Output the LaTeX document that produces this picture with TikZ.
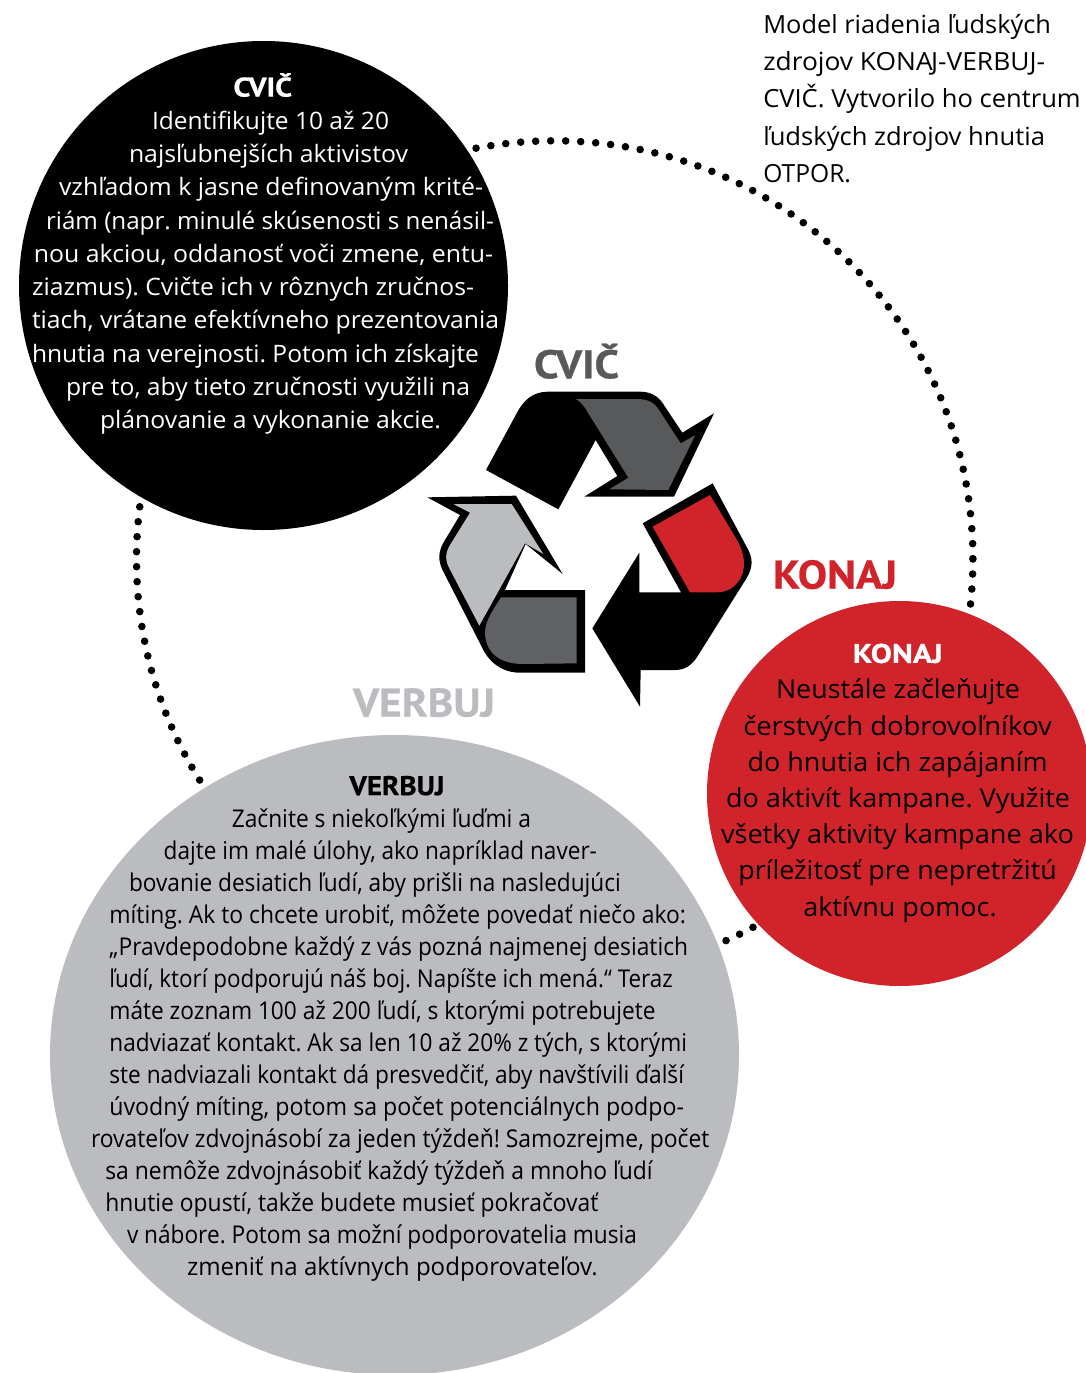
\documentclass[tikz,border=0pt]{standalone}
\usepackage{fontspec}
\usepackage{graphicx}
\usetikzlibrary{shapes.geometric}
\setmainfont{Open Sans}
\newfontfamily\headfont[BoldFeatures={FakeBold=0.6}]{PT Sans}
\definecolor{redc}{HTML}{D1232A}
\definecolor{greyc}{HTML}{BBBCC0}
\definecolor{darkc}{HTML}{58595B}
\definecolor{darkd}{HTML}{616265}
\tikzset{
  textline/.style={anchor=base west,inner sep=0pt,outer sep=0pt,yshift=-0.6pt},
  body/.style={font=\fontsize{24}{30}\selectfont\frenchspacing},
  bodyk/.style={font=\fontsize{26}{30}\selectfont\frenchspacing},
  bodyv/.style={font=\fontsize{24.5}{30}\selectfont\frenchspacing},
  bodyt/.style={font=\fontsize{25}{30}\selectfont\frenchspacing},
  headin/.style={font=\headfont\fontsize{27}{30}\selectfont\bfseries},
  headout/.style={font=\headfont\fontsize{40}{44}\selectfont\bfseries},
  ring/.style={line width=7.6pt,line cap=round,dash pattern=on 0pt off 15.015pt},
}
\newcommand\tl[6][]{\node[textline,#1] (#2) at (#3,#4) {\resizebox{\dimexpr #5pt-#3pt\relax}{\height}{#6}};}
\begin{document}
\begin{tikzpicture}[x=1pt,y=-1pt]
\useasboundingbox (0,0) rectangle (1086,1373);
\begin{scope}
\clip (0,0) rectangle (1086,1373);
% ring
\draw[ring] (554.7,559) circle[radius=418.2];
% discs
\node[circle,fill=black,minimum size=489pt,inner sep=0pt] (cvicdisc) at (263.5,285.5) {};
\node[ellipse,fill=greyc,minimum width=689pt,minimum height=640pt,inner sep=0pt] (verbdisc) at (394.5,1055) {};
\node[circle,fill=redc,minimum size=385pt,inner sep=0pt] (konajdisc) at (899.5,793.5) {};
\end{scope}
% recycle symbol
\begin{scope}[shift={(420,380)},x=0.33333pt,y=-0.33333pt]
% top arrow
\fill[black] (198,270) -- (290,100) .. controls (312,58) and (340,35) .. (385,35) -- (660,35)
  .. controls (700,35) and (720,55) .. (735,80) -- (787,158) -- (882,100) -- (762,350) -- (493,350)
  -- (592,288) -- (527,180) -- (415,388) -- cycle;
\fill[darkc] (468,57) -- (650,57) .. controls (685,57) and (703,68) .. (717,90) -- (782,190) -- (826,165)
  -- (745,330) -- (568,328) -- (625,293) -- (505,100) .. controls (495,82) and (485,68) .. (468,57) -- cycle;
% right arrow
\fill[black] (878,310) -- (668,430) -- (783,637) -- (658,637) -- (658,518) -- (517,745) -- (660,980)
  -- (662,870) -- (765,870) .. controls (800,870) and (820,850) .. (835,825) -- (970,610)
  .. controls (997,570) and (1002,545) .. (985,510) -- cycle;
\fill[redc] (870,345) -- (698,440) -- (810,637) -- (890,637) .. controls (945,637) and (975,590) .. (972,545)
  .. controls (970,515) and (955,485) .. (945,470) -- cycle;
% left arrow
\fill[black] (22,352) -- (288,347) -- (428,582) -- (317,492) -- (255,630) -- (495,630) -- (495,878)
  -- (300,878) .. controls (245,878) and (205,845) .. (185,800) -- (70,575)
  .. controls (52,540) and (55,515) .. (72,485) -- (120,405) -- cycle;
\fill[greyc] (100,372) -- (275,372) -- (370,522) -- (315,490) -- (178,737) -- (88,565)
  .. controls (75,540) and (75,520) .. (90,495) -- (150,398) -- cycle;
\fill[darkd] (243,652) -- (470,652) -- (470,850) -- (310,852) .. controls (235,852) and (197,815) .. (195,760)
  .. controls (195,725) and (215,695) .. (243,652) -- cycle;
\end{scope}
% outside headings
\tl[headout,text=darkc]{hcvic}{534}{377.7}{619}{CVIČ}
\tl[headout,text=redc]{hkonaj}{773}{588}{897}{KONAJ}
\tl[headout,text=greyc]{hverbuj}{353}{716}{495}{VERBUJ}
% note
\tl[bodyt]{n1}{763.3}{32.5}{1051}{Model riadenia ľudských}
\tl[bodyt]{n2}{763.3}{70}{1045}{zdrojov KONA\kern-1.5pt J-VERBUJ-}
\tl[bodyt]{n3}{763.3}{107.3}{1080.7}{CVIČ. Vytvorilo ho centrum}
\tl[bodyt]{n4}{763.3}{144.5}{1045}{ľudských zdrojov hnutia}
\tl[bodyt]{n5}{763.3}{182}{851}{OTPOR.}
% CVIC text
\tl[headin,text=white]{c0}{233.5}{96}{292}{CVIČ}
\tl[body,text=white]{c1}{152}{128.7}{389}{Identifikujte 10 až 20}
\tl[body,text=white]{c2}{129}{162}{408}{najsľubnejších aktivistov}
\tl[body,text=white]{c3}{59}{195.3}{483}{vzhľadom k jasne definovaným krité-}
\tl[body,text=white]{c4}{46}{228.5}{494}{riám (napr. minulé skúsenosti s nenásil-}
\tl[body,text=white]{c5}{34}{261.7}{493}{nou akciou, oddanosť voči zmene, entu-}
\tl[body,text=white]{c6}{32}{295}{474}{ziazmus). Cvičte ich v rôznych zručnos-}
\tl[body,text=white]{c7}{32}{328.3}{499}{tiach, vrátane efektívneho prezentovania}
\tl[body,text=white]{c8}{32}{361.7}{479}{hnutia na verejnosti. Potom ich získajte}
\tl[body,text=white]{c9}{66}{395}{470}{pre to, aby tieto zručnosti využili na}
\tl[body,text=white]{c10}{100}{428.3}{441}{plánovanie a vykonanie akcie.}
% KONAJ text
\tl[headin,text=white]{k0}{852.7}{662.3}{942.7}{KONAJ}
\tl[bodyk]{k1}{776}{698.3}{1020}{Neustále začleňujte}
\tl[bodyk]{k2}{743.3}{734.5}{1051.7}{čerstvých dobrovoľníkov}
\tl[bodyk]{k3}{747.7}{770.7}{1047.7}{do hnutia ich zapájaním}
\tl[bodyk]{k4}{726}{806.9}{1070}{do aktivít kampane. Využite}
\tl[bodyk]{k5}{721}{843.1}{1074}{všetky aktivity kampane ako}
\tl[bodyk]{k6}{738.3}{879.3}{1056.7}{príležitosť pre nepretržitú}
\tl[bodyk]{k7}{803.3}{915.5}{996.7}{aktívnu pomoc.}
% VERBUJ text
\tl[headin]{v0}{349.4}{794.5}{444.5}{VERBUJ}
\tl[bodyv]{v1}{231.8}{826.7}{531}{Začnite s niekoľkými ľuďmi a}
\tl[bodyv]{v2}{163.7}{858.7}{597}{dajte im malé úlohy, ako napríklad naver-}
\tl[bodyv]{v3}{129}{890.7}{620.8}{bovanie desiatich ľudí, aby prišli na nasledujúci}
\tl[bodyv]{v4}{109.4}{922.7}{686}{míting. Ak to chcete urobiť, môžete povedať niečo ako:}
\tl[bodyv]{v5}{109.4}{954.7}{688}{„Pravdepodobne každý z vás pozná najmenej desiatich}
\tl[bodyv]{v6}{109.4}{986.7}{672.7}{ľudí, ktorí podporujú náš boj. Napíšte ich mená.“ Teraz}
\tl[bodyv]{v7}{109.4}{1018.7}{655.5}{máte zoznam 100 až 200 ľudí, s ktorými potrebujete}
\tl[bodyv]{v8}{109.4}{1050.7}{687}{nadviazať kontakt. Ak sa len 10 až 20\% z tých, s ktorými}
\tl[bodyv]{v9}{109.4}{1082.7}{684}{ste nadviazali kontakt dá presvedčiť, aby navštívili ďalší}
\tl[bodyv]{v10}{109.4}{1114.7}{684}{úvodný míting, potom sa počet potenciálnych podpo-}
\tl[bodyv]{v11}{91}{1146.7}{709.4}{rovateľov zdvojnásobí za jeden týždeň! Samozrejme, počet}
\tl[bodyv]{v12}{105.3}{1178.7}{652.7}{sa nemôže zdvojnásobiť každý týždeň a mnoho ľudí}
\tl[bodyv]{v13}{105.3}{1210.7}{598.4}{hnutie opustí, takže budete musieť pokračovať}
\tl[bodyv]{v14}{127}{1242.7}{637}{v nábore. Potom sa možní podporovatelia musia}
\tl[bodyv]{v15}{187}{1274.7}{597.6}{zmeniť na aktívnych podporovateľov.}
\end{tikzpicture}
\end{document}
